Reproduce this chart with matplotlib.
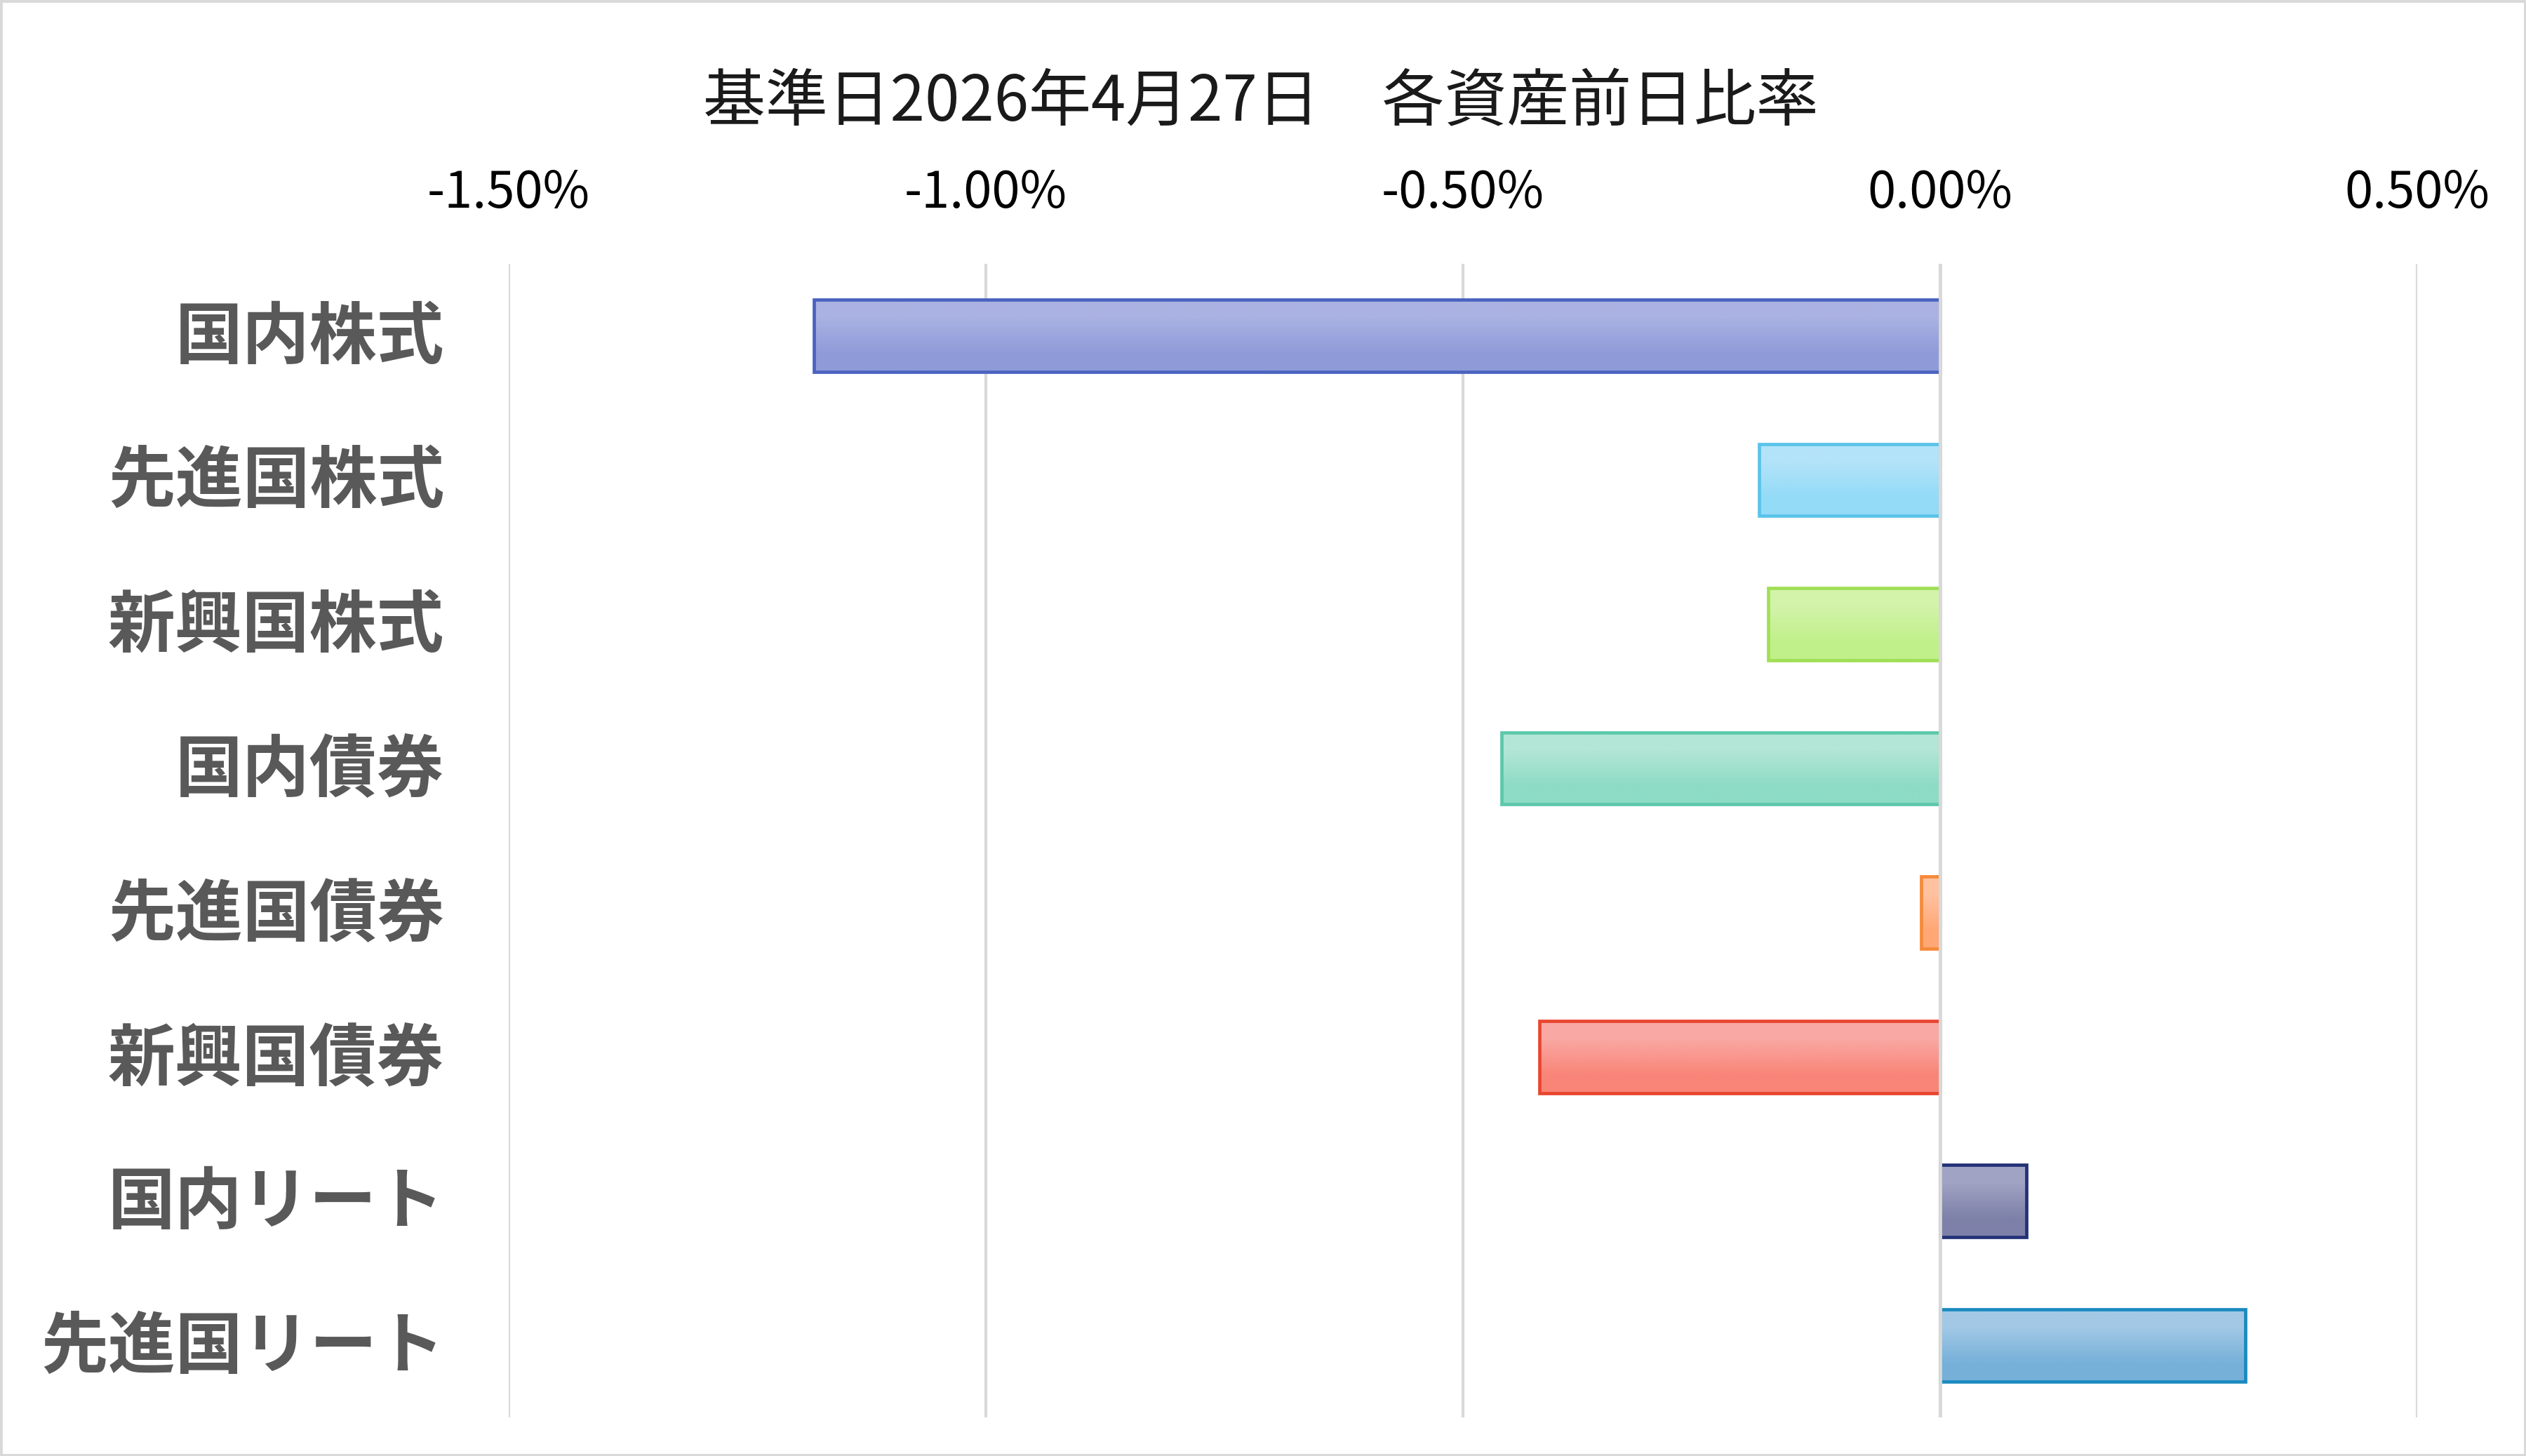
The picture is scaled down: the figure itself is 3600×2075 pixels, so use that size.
import numpy as np
import matplotlib.pyplot as plt
from matplotlib.patches import Rectangle
from matplotlib.colors import to_rgb
from matplotlib.ticker import FuncFormatter
from matplotlib.transforms import ScaledTranslation

plt.rcParams['font.family'] = ['Noto Sans CJK JP', 'DejaVu Sans']

# data (percent)
categories = ['国内株式', '先進国株式', '新興国株式', '国内債券',
              '先進国債券', '新興国債券', '国内リート', '先進国リート']
values = [-1.18, -0.19, -0.18, -0.46, -0.02, -0.42, 0.09, 0.32]
x_ticks = [-1.5, -1.0, -0.5, 0.0, 0.5]
title = '基準日2026年4月27日\u3000各資産前日比率'

# gradient top / bottom and border colour per bar
fill_top = ['#aab2e2', '#b3e3f9', '#d3f3aa', '#b3e6d6',
            '#ffc1a0', '#f9a8a3', '#a0a3c3', '#a2c8e5']
fill_bottom = ['#8f9bd9', '#93dbf7', '#c0f08a', '#8ddcc5',
               '#ffa775', '#f98578', '#7d80a8', '#76b0d9']
edge_colors = ['#4a62c0', '#5bc3ea', '#a0df55', '#5cc8aa',
               '#f58a3a', '#e8462f', '#243178', '#1a8ac0']

fig = plt.figure(figsize=(36, 20.75), dpi=100)
ax = fig.add_axes([0.2014, 0.0265, 0.7556, 0.7925])

y = np.arange(len(categories))
bars = ax.barh(y, values, height=0.5, facecolor='none',
               edgecolor=edge_colors, linewidth=3.4, zorder=3)

# vertical gradient inside every bar
for bar, top, bot in zip(bars, fill_top, fill_bottom):
    x0, y0 = bar.get_x(), bar.get_y()
    w, h = bar.get_width(), bar.get_height()
    grad = np.array([[to_rgb(top)], [to_rgb(bot)]])
    im = ax.imshow(grad, extent=(x0, x0 + w, y0 + h, y0), aspect='auto',
                   interpolation='bilinear', zorder=2, origin='upper')
    im.set_clip_path(bar)

ax.set_xlim(-1.5, 0.5)
ax.set_ylim(len(categories) - 0.5, -0.5)
ax.set_xticks(x_ticks)
ax.xaxis.set_major_formatter(FuncFormatter(lambda v, p: f'{v:.2f}%'))
ax.xaxis.tick_top()
ax.tick_params(axis='x', length=0, pad=46, labelsize=52, labelcolor='#000000')
ax.set_yticks(y)
ax.set_yticklabels(categories, fontsize=69, fontweight='bold', color='#595959')
ax.tick_params(axis='y', length=0, pad=66)
shift = ScaledTranslation(0, 7 / 100, fig.dpi_scale_trans)
for lab in ax.get_yticklabels():
    lab.set_transform(lab.get_transform() + shift)

ax.grid(axis='x', color='#d9d9d9', linewidth=3, zorder=0)
ax.set_axisbelow(True)
ax.axvline(0, color='#d9d9d9', linewidth=3.5, zorder=4)
for s in ax.spines.values():
    s.set_visible(False)

fig.text(0.499, 0.929, title, ha='center', va='center', fontsize=64,
         color='#1a1a1a')

fig.patches.append(Rectangle((0, 0), 1, 1, transform=fig.transFigure,
                             fill=False, edgecolor='#d9d9d9', linewidth=5))

fig.savefig('out.png', dpi=100)
